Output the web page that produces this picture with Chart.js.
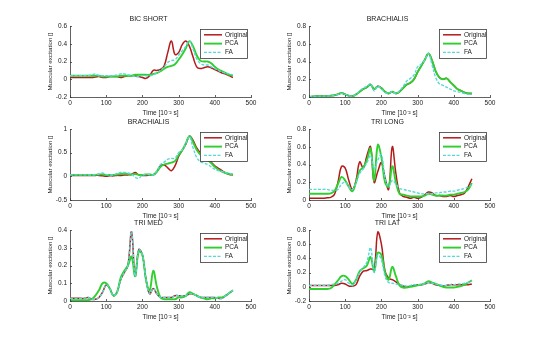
<!DOCTYPE html>
<html>
<head>
<meta charset="utf-8">
<script src="https://cdn.jsdelivr.net/npm/chart.js@4.4.1/dist/chart.umd.min.js"></script>
<style>
  html, body { margin: 0; padding: 0; background: #fff; }
  #wrap { position: relative; width: 540px; height: 340px; overflow: hidden; }
  #wrap canvas { position: absolute; }
</style>
</head>
<body>
<div id="wrap"></div>
<script>
// time samples [10^-2 s]
const times = [0,10,20,30,40,50,60,70,80,90,100,110,120,130,140,150,160,170,180,190,200,210,220,230,240,250,260,270,280,290,300,310,320,330,340,350,360,370,380,390,400,410,420,430,440,450];

const seriesNames = ["Original", "PCA", "FA"];

// BIC SHORT
const bicShortOrig = [0.02,0.02,0.02,0.02,0.02,0.02,0.02,0.025,0.03,0.02, 0.02,0.03,0.03,0.03,0.02,0.03,0.04,0.04,0.04,0.03, 0.02,0.01,0.04,0.10,0.10,0.11,0.15,0.30,0.43,0.28, 0.30,0.39,0.43,0.37,0.25,0.14,0.12,0.13,0.14,0.13, 0.11,0.09,0.07,0.06,0.04,0.02];
const bicShortPca = [0.04,0.04,0.04,0.04,0.04,0.04,0.04,0.04,0.04,0.03, 0.03,0.03,0.03,0.03,0.04,0.04,0.04,0.04,0.05,0.05, 0.05,0.05,0.05,0.06,0.07,0.09,0.12,0.14,0.15,0.17, 0.22,0.28,0.35,0.43,0.37,0.27,0.21,0.20,0.20,0.18, 0.14,0.11,0.09,0.07,0.05,0.04];
const bicShortFa = [0.04,0.04,0.04,0.04,0.04,0.04,0.05,0.06,0.04,0.04, 0.04,0.04,0.04,0.05,0.06,0.06,0.05,0.04,0.03,0.03, 0.04,0.04,0.04,0.05,0.07,0.10,0.14,0.19,0.21,0.22, 0.27,0.32,0.37,0.43,0.34,0.23,0.18,0.16,0.16,0.14, 0.12,0.10,0.08,0.07,0.06,0.05];

// BRACHIALIS (top)
const brachAOrig = [0.00,0.005,0.01,0.01,0.01,0.01,0.015,0.02,0.03,0.045, 0.03,0.015,0.01,0.03,0.06,0.09,0.11,0.14,0.09,0.12, 0.10,0.06,0.04,0.06,0.04,0.06,0.10,0.14,0.16,0.20, 0.28,0.35,0.42,0.49,0.41,0.29,0.22,0.20,0.21,0.17, 0.13,0.09,0.07,0.05,0.04,0.04];
const brachAPca = [0.00,0.005,0.01,0.01,0.01,0.01,0.015,0.02,0.03,0.045, 0.03,0.015,0.01,0.03,0.06,0.09,0.11,0.14,0.09,0.12, 0.10,0.06,0.04,0.06,0.04,0.06,0.10,0.14,0.16,0.20, 0.28,0.35,0.42,0.49,0.41,0.29,0.22,0.20,0.21,0.17, 0.13,0.09,0.07,0.05,0.04,0.04];
const brachAFa = [0.00,0.005,0.01,0.01,0.01,0.01,0.015,0.02,0.03,0.04, 0.03,0.015,0.01,0.03,0.07,0.10,0.12,0.15,0.07,0.12, 0.09,0.05,0.04,0.06,0.04,0.07,0.12,0.18,0.21,0.25, 0.34,0.37,0.42,0.49,0.36,0.22,0.15,0.13,0.11,0.09, 0.07,0.06,0.05,0.04,0.03,0.03];

// BRACHIALIS (middle)
const brachBOrig = [0.02,0.02,0.02,0.02,0.02,0.02,0.02,0.02,0.02,0.01, 0.00,0.01,0.01,0.02,0.02,0.03,0.03,0.04,0.08,0.03, 0.02,0.02,0.03,0.03,0.10,0.22,0.24,0.18,0.12,0.22, 0.42,0.55,0.68,0.85,0.76,0.60,0.50,0.44,0.38,0.30, 0.22,0.17,0.12,0.07,0.04,0.03];
const brachBPca = [0.03,0.03,0.03,0.03,0.03,0.03,0.03,0.03,0.04,0.04, 0.03,0.03,0.03,0.04,0.05,0.06,0.05,0.04,0.05,0.03, 0.03,0.04,0.04,0.03,0.10,0.20,0.25,0.27,0.29,0.32, 0.45,0.55,0.70,0.85,0.72,0.56,0.46,0.40,0.35,0.28, 0.20,0.14,0.10,0.07,0.05,0.04];
const brachBFa = [0.03,0.03,0.03,0.03,0.03,0.03,0.03,0.04,0.05,0.07, 0.04,0.03,0.03,0.06,0.08,0.08,0.07,0.05,-0.02,-0.04, 0.03,0.04,0.04,0.03,0.12,0.25,0.30,0.36,0.38,0.38, 0.50,0.56,0.70,0.84,0.60,0.40,0.31,0.28,0.25,0.20, 0.15,0.12,0.10,0.08,0.06,0.05];

// TRI LONG
const triLongOrig = [0.02,0.02,0.02,0.02,0.02,0.025,0.03,0.06,0.20,0.38, 0.36,0.22,0.12,0.22,0.43,0.36,0.50,0.60,0.20,0.32, 0.42,0.25,0.12,0.60,0.30,0.08,0.04,0.03,0.02,0.03, 0.02,0.03,0.06,0.09,0.08,0.05,0.05,0.04,0.04,0.05, 0.04,0.05,0.06,0.08,0.15,0.24];
const triLongPca = [0.07,0.07,0.07,0.07,0.07,0.07,0.075,0.10,0.18,0.26, 0.22,0.15,0.10,0.20,0.33,0.37,0.45,0.58,0.22,0.62, 0.48,0.20,0.15,0.38,0.20,0.07,0.06,0.05,0.04,0.04, 0.04,0.04,0.05,0.07,0.06,0.05,0.05,0.05,0.05,0.06, 0.06,0.07,0.08,0.09,0.12,0.19];
const triLongFa = [0.12,0.12,0.12,0.12,0.12,0.12,0.11,0.11,0.12,0.18, 0.20,0.15,0.12,0.20,0.30,0.35,0.42,0.50,0.35,0.45, 0.51,0.25,0.15,0.22,0.18,0.13,0.12,0.11,0.10,0.09, 0.08,0.07,0.07,0.07,0.07,0.08,0.08,0.09,0.09,0.10, 0.10,0.11,0.12,0.13,0.15,0.17];

// TRI MED
const triMedOrig = [0.015,0.015,0.015,0.015,0.015,0.02,0.01,0.01,0.02,0.05, 0.09,0.07,0.03,0.05,0.12,0.16,0.20,0.39,0.14,0.29, 0.26,0.12,0.04,0.07,0.04,0.02,0.02,0.02,0.02,0.03, 0.03,0.03,0.03,0.04,0.04,0.03,0.02,0.02,0.02,0.02, 0.02,0.015,0.015,0.03,0.045,0.06];
const triMedPca = [0.005,0.005,0.005,0.005,0.005,0.005,0.01,0.03,0.06,0.10, 0.10,0.07,0.03,0.05,0.13,0.17,0.20,0.25,0.14,0.28, 0.26,0.12,0.06,0.17,0.08,0.02,0.01,0.01,0.01,0.01, 0.02,0.02,0.03,0.05,0.04,0.03,0.02,0.015,0.01,0.015, 0.015,0.02,0.02,0.03,0.045,0.06];
const triMedFa = [0.015,0.015,0.015,0.015,0.015,0.02,0.01,0.01,0.02,0.05, 0.09,0.07,0.03,0.05,0.12,0.16,0.20,0.39,0.14,0.29, 0.26,0.12,0.04,0.07,0.04,0.02,0.02,0.02,0.02,0.03, 0.03,0.03,0.03,0.04,0.04,0.03,0.02,0.02,0.02,0.02, 0.02,0.015,0.015,0.03,0.045,0.06];

// TRI LAT
const triLatOrig = [0.02,0.02,0.02,0.02,0.02,0.02,0.02,0.02,0.03,0.05, 0.04,0.01,0.01,0.03,0.15,0.22,0.23,0.25,0.25,0.77, 0.60,0.22,0.12,0.10,0.07,0.03,0.01,0.00,0.01,0.02, 0.03,0.03,0.04,0.06,0.05,0.03,0.02,0.01,0.02,0.03, 0.03,0.03,0.03,0.03,0.03,0.04];
const triLatPca = [-0.03,-0.03,-0.03,-0.03,-0.03,-0.03,-0.02,0.03,0.09,0.15, 0.15,0.10,0.04,0.10,0.22,0.26,0.30,0.42,0.22,0.48, 0.45,0.20,0.10,0.28,0.15,0.02,-0.01,-0.01,0.00,0.01, 0.02,0.03,0.05,0.08,0.06,0.04,0.02,0.00,-0.01,-0.01, -0.01,0.00,0.01,0.03,0.06,0.09];
const triLatFa = [0.02,0.02,0.02,0.02,0.02,0.02,0.03,0.04,0.05,0.08, 0.10,0.05,0.02,0.10,0.20,0.27,0.35,0.55,0.20,0.45, 0.38,0.15,0.06,0.05,0.04,0.03,0.02,0.01,0.02,0.03, 0.03,0.04,0.04,0.06,0.05,0.04,0.03,0.02,0.02,0.03, 0.03,0.04,0.04,0.05,0.06,0.08];

// y axis limits and tick step per muscle
const panels = [
  { title: "BIC SHORT",  series: [bicShortOrig, bicShortPca, bicShortFa], yMin: -0.2, yMax: 0.6, yStep: 0.2 },
  { title: "BRACHIALIS", series: [brachAOrig, brachAPca, brachAFa],       yMin: 0,    yMax: 0.8, yStep: 0.2 },
  { title: "BRACHIALIS", series: [brachBOrig, brachBPca, brachBFa],       yMin: -0.5, yMax: 1,   yStep: 0.5 },
  { title: "TRI LONG",   series: [triLongOrig, triLongPca, triLongFa],    yMin: 0,    yMax: 0.8, yStep: 0.2 },
  { title: "TRI MED",    series: [triMedOrig, triMedPca, triMedFa],       yMin: 0,    yMax: 0.4, yStep: 0.1 },
  { title: "TRI LAT",    series: [triLatOrig, triLatPca, triLatFa],       yMin: -0.2, yMax: 0.8, yStep: 0.2 },
];

// top-left corner of each plot box on the page
const plotPos = [[70, 26], [309, 26], [70, 128.7], [309, 128.7], [70, 230.3], [309, 230.3]];
const plotW = 181, plotH = 71;
const padL = 24, padT = 26, padB = 20, padR = 8;

const lineStyles = [
  { color: "#b51a1a", width: 1.5, dash: [] },
  { color: "#2fcf2f", width: 1.9, dash: [] },
  { color: "#5ad8d8", width: 1.4, dash: [3, 1.5] },
];

const axisColor = "#3a3a3a";
const textColor = "#222";
Chart.defaults.font.family = "'Liberation Sans', Arial, sans-serif";
Chart.defaults.font.size = 6.5;
Chart.defaults.color = textColor;

// small inward tick marks, like the axes of a plotting package
const innerTicks = {
  id: "innerTicks",
  afterDatasetsDraw(chart) {
    const { ctx, chartArea, scales } = chart;
    ctx.save();
    ctx.strokeStyle = axisColor;
    ctx.lineWidth = 0.8;
    ctx.beginPath();
    scales.x.ticks.forEach((t) => {
      const px = Math.round(scales.x.getPixelForValue(t.value)) + 0.5;
      ctx.moveTo(px, chartArea.bottom);
      ctx.lineTo(px, chartArea.bottom - 2);
    });
    scales.y.ticks.forEach((t) => {
      const py = Math.round(scales.y.getPixelForValue(t.value)) + 0.5;
      ctx.moveTo(chartArea.left, py);
      ctx.lineTo(chartArea.left + 2, py);
    });
    ctx.stroke();
    ctx.restore();
  },
};

// boxed legend in the upper right corner of the plot
const boxLegend = {
  id: "boxLegend",
  afterDraw(chart) {
    const { ctx, chartArea } = chart;
    const w = 47, h = 29;
    const x = Math.round(chartArea.right - 4 - w);
    const y = Math.round(chartArea.top + 3);
    ctx.save();
    ctx.fillStyle = "#fff";
    ctx.fillRect(x, y, w, h);
    ctx.strokeStyle = axisColor;
    ctx.lineWidth = 0.8;
    ctx.strokeRect(x + 0.5, y + 0.5, w, h);
    chart.data.datasets.forEach((ds, i) => {
      const ly = y + 5.8 + i * 8.8;
      ctx.strokeStyle = ds.borderColor;
      ctx.lineWidth = ds.borderWidth;
      ctx.setLineDash(ds.borderDash || []);
      ctx.beginPath();
      ctx.moveTo(x + 4, ly);
      ctx.lineTo(x + 22, ly);
      ctx.stroke();
      ctx.setLineDash([]);
      ctx.fillStyle = textColor;
      ctx.font = "6.5px 'Liberation Sans', Arial, sans-serif";
      ctx.textBaseline = "middle";
      ctx.fillText(ds.label, x + 25, ly);
    });
    ctx.restore();
  },
};

const wrap = document.getElementById("wrap");

panels.forEach((p, k) => {
  const [left, top] = plotPos[k];
  const canvas = document.createElement("canvas");
  canvas.width = padL + plotW + padR;
  canvas.height = padT + plotH + padB;
  canvas.style.left = left - padL + "px";
  canvas.style.top = top - padT + "px";
  wrap.appendChild(canvas);

  const datasets = p.series.map((vals, i) => ({
    label: seriesNames[i],
    data: times.map((t, j) => ({ x: t, y: vals[j] })),
    borderColor: lineStyles[i].color,
    borderWidth: lineStyles[i].width,
    borderDash: lineStyles[i].dash,
    pointRadius: 0,
    fill: false,
    tension: 0.4,
    order: 3 - i,
  }));

  new Chart(canvas, {
    type: "line",
    data: { datasets },
    options: {
      responsive: false,
      animation: false,
      devicePixelRatio: 1,
      layout: { padding: { left: 0, top: 0, right: padR, bottom: 0 } },
      plugins: {
        legend: { display: false },
        tooltip: { enabled: false },
        title: {
          display: true,
          text: p.title,
          color: textColor,
          font: { size: 7, weight: "normal" },
          padding: { top: 14.8, bottom: 2.8 },
        },
      },
      scales: {
        x: {
          type: "linear",
          min: 0,
          max: 500,
          ticks: { stepSize: 100, padding: 2, maxRotation: 0, color: textColor },
          grid: { display: false, drawTicks: false },
          border: { display: true, color: axisColor, width: 0.8 },
          title: { display: true, text: "Time [10⁻² s]", padding: 0, color: textColor, font: { size: 6.5 } },
          afterFit(s) {
            s.height = padB;
            s.paddingLeft = 0;
            s.paddingRight = 0;
          },
        },
        y: {
          min: p.yMin,
          max: p.yMax,
          ticks: { stepSize: p.yStep, padding: 3, color: textColor, callback: (v) => +v.toFixed(2) },
          grid: { display: false, drawTicks: false },
          border: { display: true, color: axisColor, width: 0.8 },
          title: { display: true, text: "Muscular excitation []", padding: { top: 1, bottom: 0 }, color: textColor, font: { size: 6.2 } },
          afterFit(s) {
            s.width = padL;
            s.paddingTop = 0;
            s.paddingBottom = 0;
          },
        },
      },
    },
    plugins: [innerTicks, boxLegend],
  });
});
</script>
</body>
</html>
